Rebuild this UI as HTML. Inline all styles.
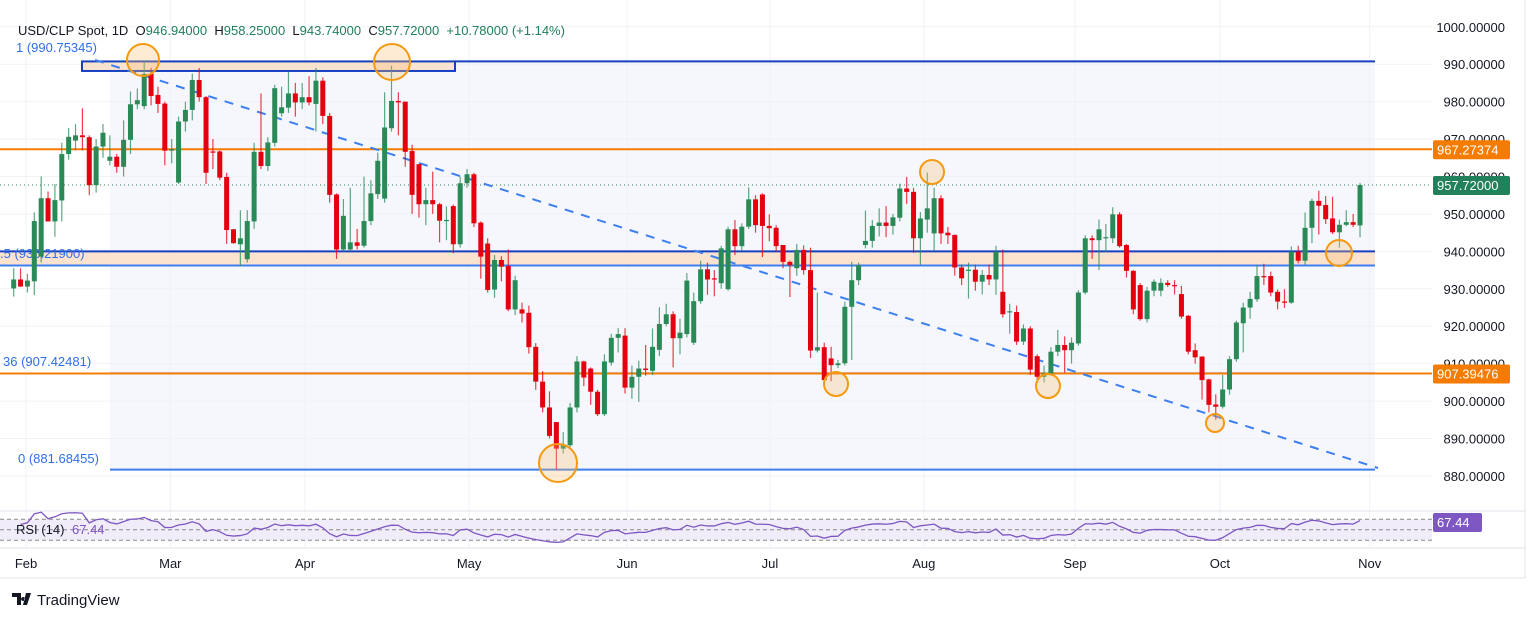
<!DOCTYPE html>
<html><head><meta charset="utf-8"><style>
body{margin:0;background:#fff;width:1536px;height:619px;overflow:hidden;font-family:"Liberation Sans",sans-serif}
svg{display:block}
</style></head><body>
<svg id="chart" width="1536" height="619" xmlns="http://www.w3.org/2000/svg" font-family="Liberation Sans, sans-serif"></svg>
<script>
const opens=[930.1,932.5,930.6,932,938.6,954.2,948,953.6,966,969.6,971,970.5,957.7,968,964.2,965.3,962.6,969.8,979.3,978.8,987.4,981.8,979.5,966.9,958.4,974.7,977.8,985.8,981.2,966.7,966.7,959.9,945.9,941.9,937.9,948,966.6,962.8,969,976.9,978.4,982.2,979.8,981.2,979.4,985.6,976.2,955.2,940.5,940.5,942.4,941.5,948.1,955.3,954.1,972.9,980.2,980,966.8,963.3,952.6,953.7,952.6,948.2,952.1,941.9,958.2,960.6,947.7,942.1,929.8,937.7,936.1,924.5,924.5,923.6,914.5,905.2,898.3,894.4,887.3,888.2,898.3,910.6,908.7,902.5,896.5,910.3,916.9,917.5,903.6,906.5,908.7,908.1,913.7,920.6,923.2,916.8,917.9,915.6,926.7,935.2,932.8,931.5,929.9,945.9,941.4,946.6,953.9,955.2,946.8,946.3,941.7,937.2,935.5,940.4,935,913.5,914.4,911.4,909.6,910.1,925.2,932.3,941.7,942.8,946.8,947.7,946.8,949,956.8,955.9,943.5,948.5,944.8,954.2,945,944.4,935.7,934.9,935.1,931.9,933.7,932.5,929.2,923.8,923.8,915.9,919.4,912,906.5,907.4,913.2,915,913.6,915.4,929,943.5,943,943.5,943.5,949.9,941.7,934.8,931,921.9,929.5,929.5,931.6,931,928.6,922.8,913.6,911.9,905.8,899.1,898.5,903.1,911.2,920.8,925,927.2,933.4,933.4,929.2,926.6,926.3,939.9,937.5,946.3,953.5,952.4,948.8,945.1,947.1,947.8,946.94];
const highs=[935.5,935.5,934,950.4,960,956,958,969,973,974,978.2,971,970,974,971,966,975,982.7,983.5,990.8,989,984,980,970,976,980,987.5,989,981.5,970,967,961,946,951,951,969,982.2,970.5,984.5,984,988,985,985,986.8,989,986.5,977,955.5,954,957,946,960,959,966.4,982.5,989.6,982.5,980,968.5,963,957,961.3,953,952,952.5,960,962,961,948,943.5,939,938.7,940.5,933.5,926.3,925.5,915.5,908,902.6,894.4,891.7,899.5,912,910.8,909,903,912.5,918,919.5,919.5,909.5,910.8,915,919.4,925.1,926,924,922,934.2,929,937.5,937,935,941.5,946.6,948.4,947.5,957.1,955,955.5,949.9,947,941.7,937.5,942,941.6,941,929,915.6,914.5,911,926.6,937.2,937,950.9,948.4,951.5,952.1,950,958.1,959.9,957,950.5,961.1,957,955,946.5,944.5,936.5,937,936.5,935,936.5,941.5,940.5,926,925.5,920.5,920,912.5,909.5,914.4,919,917.3,917,929.6,944.3,944.3,948.5,947.3,951.8,950.5,942,935,931.5,930.5,932.5,932.8,932.3,932.3,930.8,923,915.4,912,906,901.8,907,912,921.5,926.3,929.2,936.3,936.7,934.6,929.8,929.9,941.3,941.5,950.4,954.1,956.2,954.8,954.6,948.5,951,950,958.25];
const lows=[927.9,930.5,929,928.3,937,948,943.9,948,964.5,967,967,955,955.7,965,963,961,960,966,978,978,979,977,963,963.5,958,972,975,980,958,962,959,942,942,936,937,946,962,961.5,968,976,977,976,978,979,972,974,953,938,940,940,940.5,941,947,954,953,972,971,962.6,950,949,947,950,942.4,943,939.5,941,957,946.5,932.7,929,927.6,932,924,923,921,912.7,903,897,890,881.7,886,887,897,904,899,896,896,909.5,913,902,900.6,899.8,906.8,907,912,920,909,912.5,917,915,926,928.4,928,930,929.5,939,940,946,945,938.5,942.7,940,935.5,927.8,933.5,933.8,911.5,913,905,905.3,908.8,909.5,911,931,940.8,941,944,943.8,944.5,948,952.7,939.6,936.5,945,940,942,942,933.5,931,927.4,929.5,928.5,931,928.4,922.3,918,915,915,907,904.9,905,906.8,912,907.6,910,914.8,928.5,938,935,939.8,942.2,941,933,923.2,921.5,921,928,928,930.5,928.5,922,912.5,910,900.4,897,895,898,901.7,910.5,913,922,926.5,931,928,924.5,924.9,926,936.8,936.5,942.2,944.5,947.3,944.6,941,946.7,946.5,943.74];
const closes=[932.5,930.6,932.2,948.1,954.2,948,953.7,966,970.6,971,970.5,957.7,968,971.7,965.3,962.6,969.8,979.3,980.4,987.4,981.5,979.4,966.9,967.3,974.7,977.8,985.8,981.2,961,966.4,959.7,945.7,942.2,943.5,948.1,966.6,962.8,969.1,983.6,978.5,982.2,979.8,981.2,979.8,985.6,976.2,955.1,940.5,949.5,942.4,941.5,948.1,955.5,964.2,973.1,980.2,979.8,966.6,955.1,952.6,953.7,952.6,948.2,948.4,941.9,958.2,960.6,947.5,938.6,929.7,937.7,935.9,924.5,932.3,923.4,914.4,905.2,898.3,890.7,887.3,888.4,898.3,910.6,906.3,902.5,896.5,910.6,916.9,917.9,903.6,906.5,908.7,908.3,914.5,920.6,923.2,916.8,918.3,932.2,926.7,935.2,932.5,932.5,940.8,945.9,941.4,946.6,953.9,947,946.8,946.2,941.4,937.2,936.3,940.4,935,913.5,914.4,905.6,909.6,910.1,925.2,932.3,936.3,942.8,946.8,947.7,946.8,949.1,956.8,955.9,943.5,948.8,951.5,954.2,944.8,944.3,935.7,932.8,935.1,931.9,933.7,932.5,939.9,923.2,924,915.9,919.4,908.4,906.5,907.4,913.2,915,913.6,915.6,929,943.5,943,945.9,943.8,949.9,941.4,934.8,924.5,921.9,929.5,931.9,931.6,931,930.8,922.6,913.2,911.7,905.6,899,898.5,903.1,911.2,921,925,927.3,933.4,933.1,929,926.6,926.3,939.9,937.5,946.3,953.5,952.2,948.6,945.1,947.1,947.8,947.1,957.72];
const priceTicks=[1000,990,980,970,960,950,940,930,920,910,900,890,880];
const monthLabels=["Feb","Mar","Apr","May","Jun","Jul","Aug","Sep","Oct","Nov"];
const monthIdx=[1.8,22.8,42.4,66.3,89.3,110.1,132.5,154.5,175.6,197.4];

const NS="http://www.w3.org/2000/svg";
const svg=document.getElementById('chart');
const X0=13.7, DX=6.869, PLOT_R=1432;
const xs=i=>X0+i*DX;
const ys=p=>26.8+(1000-p)*3.743;
const yr=v=>519.3+(70-v)*0.525;
function el(tag,a,parent){const e=document.createElementNS(NS,tag);for(const k in a)e.setAttribute(k,a[k]);(parent||svg).appendChild(e);return e;}
function txt(s,a,parent){const e=el('text',a,parent);e.textContent=s;return e;}

let bg=el('rect',{x:110,y:ys(990.75),width:1265,height:ys(881.68)-ys(990.75),fill:'#f5f7fd'});


const grid=el('g',{stroke:'#f0f2f6','stroke-width':1});


priceTicks.forEach(p=>el('line',{x1:0,x2:PLOT_R,y1:ys(p),y2:ys(p)},grid));
monthIdx.forEach(m=>el('line',{x1:xs(m),x2:xs(m),y1:0,y2:548},grid));

let band=el('rect',{x:0,y:ys(940),width:1375,height:ys(936.22)-ys(940),fill:'#fbe3d0'});


el('line',{x1:0,x2:1375,y1:ys(940),y2:ys(940),stroke:'#1740c0','stroke-width':2});
el('line',{x1:0,x2:1375,y1:ys(936.22),y2:ys(936.22),stroke:'#3d7ff0','stroke-width':2});
let tr=el('rect',{x:82,y:ys(990.75),width:373,height:ys(988.2)-ys(990.75),fill:'#fbe3d0',stroke:'#1740c0','stroke-width':2});


el('line',{x1:455,x2:1375,y1:ys(990.75),y2:ys(990.75),stroke:'#1740c0','stroke-width':2});
el('line',{x1:110,x2:1375,y1:ys(907.42),y2:ys(907.42),stroke:'#3d7ff0','stroke-width':2});
el('line',{x1:110,x2:1375,y1:ys(881.68),y2:ys(881.68),stroke:'#3d7ff0','stroke-width':2});
el('line',{x1:0,x2:PLOT_R,y1:ys(967.27),y2:ys(967.27),stroke:'#f57c00','stroke-width':2});
el('line',{x1:0,x2:PLOT_R,y1:ys(907.39),y2:ys(907.39),stroke:'#f57c00','stroke-width':2});
el('line',{x1:0,x2:PLOT_R,y1:ys(957.72),y2:ys(957.72),stroke:'#2a8a57','stroke-width':1,'stroke-dasharray':'1 3'});
let tl=el('line',{x1:95,y1:60,x2:1378,y2:468,stroke:'#3d7ff0','stroke-width':2,'stroke-dasharray':'9 8'});



const fl=el('g',{fill:'#2f6fe8','font-size':13});
txt('1 (990.75345)',{x:16,y:52},fl);
txt('.5 (936.21900)',{x:0,y:258},fl);
txt('36 (907.42481)',{x:3,y:366},fl);
txt('0 (881.68455)',{x:18,y:463},fl);

const cg=el('g',{});


for(let i=0;i<closes.length;i++){
  const up=closes[i]>=opens[i];const col=up?'#2a8a57':'#e4000f';
  const g=el('g',{},cg);
  
  
  const x=xs(i);
  el('line',{x1:x,x2:x,y1:ys(highs[i]),y2:ys(lows[i]),stroke:col,'stroke-width':1.2,opacity:0.75},g);
  const t=ys(Math.max(opens[i],closes[i])),b=ys(Math.min(opens[i],closes[i]));
  el('rect',{x:x-2.5,y:t,width:5,height:Math.max(1.2,b-t),fill:col},g);
}

const circ=[[143,60,16],[392,62,18],[932,172,12],[558,463,19],[836,384,12],[1048,386,12],[1215,423,9],[1339,253,13]];
circ.forEach(c=>{const e=el('circle',{cx:c[0],cy:c[1],r:c[2],fill:'rgba(250,190,110,0.3)',stroke:'#f59a10','stroke-width':2});

});

const ax=el('g',{fill:'#131722','font-size':13,'text-anchor':'end'});


priceTicks.forEach(p=>txt(p.toFixed(5),{x:1505,y:ys(p)+5},ax));
el('line',{x1:1525,x2:1525,y1:0,y2:578,stroke:'#e0e3eb'});
function tag(v,col,y,w){el('rect',{x:1433,y:y-9,width:w,height:19,fill:col,rx:2});txt(v,{x:1437,y:y+5,fill:'#fff','font-size':13});}
tag('967.27374','#f57c00',ys(967.27),77);
tag('957.72000','#22805a',ys(957.72),77);
tag('907.39476','#f57c00',ys(907.39),77);
tag('67.44','#7e57c2',522,49);

el('line',{x1:0,x2:1525,y1:511,y2:511,stroke:'#e0e3eb'});
el('rect',{x:0,y:yr(70),width:PLOT_R,height:yr(30)-yr(70),fill:'#f0ecfa'});
[70,50,30].forEach(v=>el('line',{x1:0,x2:PLOT_R,y1:yr(v),y2:yr(v),stroke:'#888','stroke-dasharray':'4 3','stroke-width':1}));
// RSI (14, Wilder) derived from closes, seeded as if prior trend was up
const rsi=[];let ag=0.9,al=0.45;
for(let i=1;i<closes.length;i++){const d=closes[i]-closes[i-1];const g=Math.max(d,0),l=Math.max(-d,0);
 ag=(ag*13+g)/14;al=(al*13+l)/14;
 rsi.push(100-100/(1+ag/Math.max(al,1e-6)));}
let pts=rsi.map((v,i)=>xs(i+1)+','+yr(Math.max(20,Math.min(85,v)))).join(' ');
let rl=el('polyline',{points:pts,fill:'none',stroke:'#7e57c2','stroke-width':1.3});


txt('RSI (14)',{x:16,y:534,'font-size':13,fill:'#131722'});
txt('67.44',{x:72,y:534,'font-size':13,fill:'#7e57c2'});

el('line',{x1:0,x2:1525,y1:548,y2:548,stroke:'#e0e3eb'});
el('line',{x1:0,x2:1525,y1:578,y2:578,stroke:'#e0e3eb'});
const dx=el('g',{'font-size':13,fill:'#131722','text-anchor':'middle'});


monthLabels.forEach((m,i)=>txt(m,{x:xs(monthIdx[i]),y:568},dx));

const hd=el('g',{'font-size':13});


const h=txt('',{x:18,y:35,fill:'#131722'},hd);
const parts=[['USD/CLP Spot, 1D  O','#131722'],['946.94000','#22805a'],['  H','#131722'],['958.25000','#22805a'],['  L','#131722'],['943.74000','#22805a'],['  C','#131722'],['957.72000','#22805a'],['  +10.78000 (+1.14%)','#22805a']];
parts.forEach(p=>{const s=el('tspan',{fill:p[1]},h);s.textContent=p[0];});
h.setAttribute('style','white-space:pre');

const lg=el('g',{});


el('path',{d:'M12 593h9v12h-4v-8h-5z M23 597a2 2 0 1 0 0.1 0 M26 593h5l-4 12h-4z',fill:'#131722'},lg);
txt('TradingView',{x:37,y:605,'font-size':15,fill:'#131722'},lg);
</script>
</body></html>
